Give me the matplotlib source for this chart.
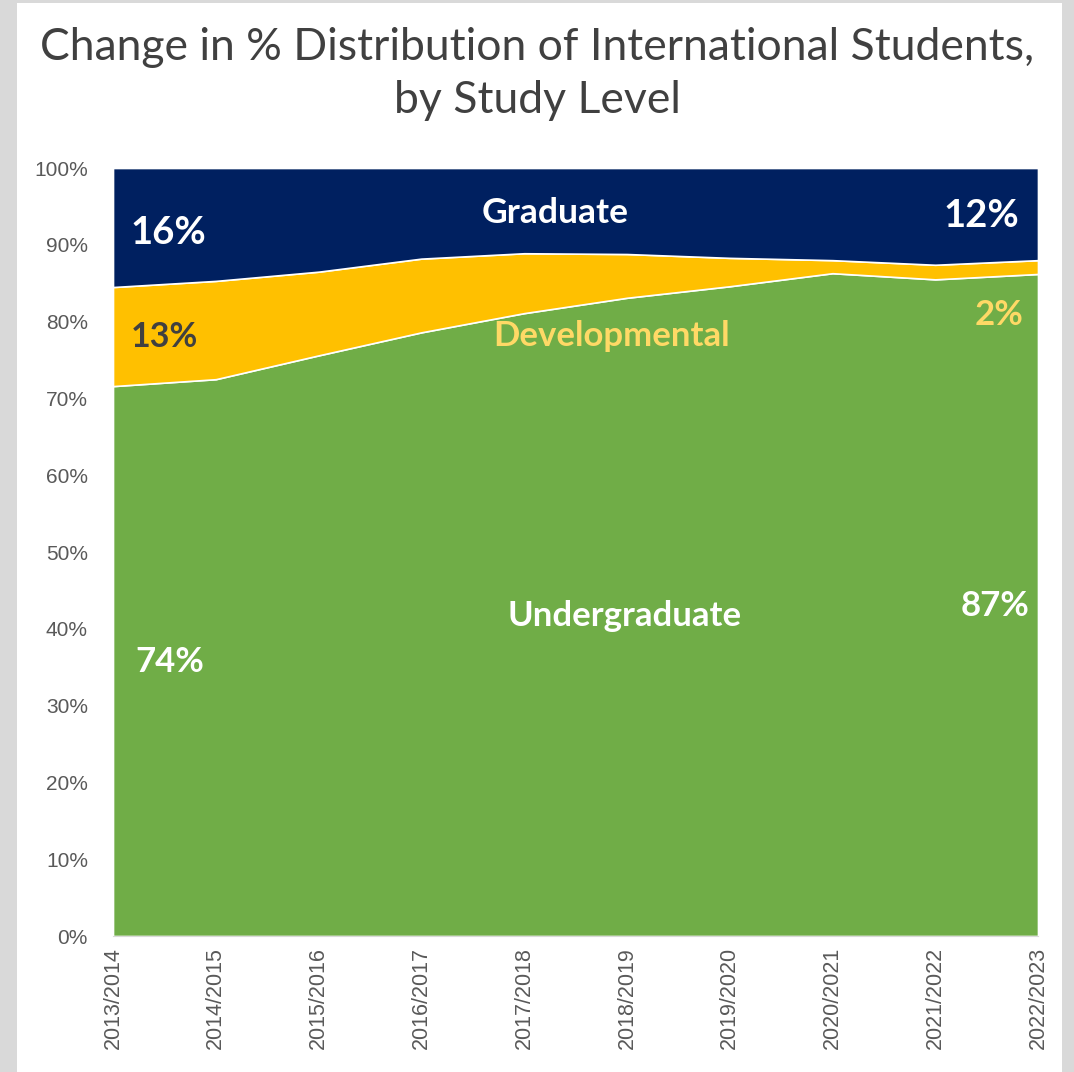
import matplotlib.pyplot as plt
from matplotlib.ticker import PercentFormatter

# academic years
years = ["2013/2014", "2014/2015", "2015/2016", "2016/2017", "2017/2018",
         "2018/2019", "2019/2020", "2020/2021", "2021/2022", "2022/2023"]

# % share of each study level
undergrad = [71.6, 72.5, 75.6, 78.6, 81.1, 83.1, 84.6, 86.3, 85.5, 86.2]
developmental = [12.9, 12.8, 10.9, 9.6, 7.8, 5.7, 3.7, 1.7, 1.9, 1.8]
graduate = [15.5, 14.7, 13.5, 11.8, 11.1, 11.2, 11.7, 12.0, 12.6, 12.0]

fig = plt.figure(figsize=(10.74, 10.72), dpi=100)
fig.patch.set_facecolor("#d9d9d9")
# white card behind the chart
bg = fig.add_axes([17/1074, 0, (1062-17)/1074, 1 - 3/1072], zorder=0)
bg.set_facecolor("white")
bg.set_xticks([])
bg.set_yticks([])
for s in bg.spines.values():
    s.set_visible(False)

ax = fig.add_axes([113/1074, 1 - 936/1072, 925/1074, 768/1072], zorder=1)
ax.patch.set_alpha(0)
x = list(range(len(years)))
ax.stackplot(x, undergrad, developmental, graduate,
             colors=["#70ad47", "#ffc000", "#002060"],
             edgecolor="white", linewidth=1.2)

ax.set_xlim(0, len(years) - 1)
ax.set_ylim(0, 100)
ax.set_yticks(range(0, 101, 10))
ax.yaxis.set_major_formatter(PercentFormatter(decimals=0))
ax.set_xticks(x)
ax.set_xticklabels(years, rotation=90)
ax.tick_params(length=0, labelcolor="#595959")
ax.tick_params(axis="y", labelsize=15, pad=18)
ax.tick_params(axis="x", labelsize=15.5, pad=8)
for lbl in ax.get_xticklabels() + ax.get_yticklabels():
    lbl.set_family("Liberation Sans")
for s in ["top", "right", "left"]:
    ax.spines[s].set_visible(False)
ax.spines["bottom"].set_color("#d9d9d9")

fig.text(0.5, 1 - 74/1072, "Change in % Distribution of International Students,\nby Study Level",
         ha="center", va="center", fontsize=32, color="#404040",
         family="Lato", linespacing=1.38)

lab = dict(family="Lato", fontweight="bold", ha="center", va="center")
ax.text(4.30, 94.1, "Graduate", color="white", fontsize=25.5, **lab)
ax.text(4.85, 78.1, "Developmental", color="#ffd966", fontsize=25, **lab)
ax.text(4.98, 41.7, "Undergraduate", color="white", fontsize=25, **lab)
ax.text(0.535, 91.5, "16%", color="white", fontsize=27.5, **lab)
ax.text(0.50, 78.0, "13%", color="#404040", fontsize=24.5, **lab)
ax.text(0.555, 35.7, "74%", color="white", fontsize=25, **lab)
ax.text(8.45, 93.75, "12%", color="white", fontsize=27.5, **lab)
ax.text(8.62, 80.9, "2%", color="#ffd966", fontsize=25, **lab)
ax.text(8.58, 43.0, "87%", color="white", fontsize=25, **lab)

fig.savefig("out.png", dpi=100)
